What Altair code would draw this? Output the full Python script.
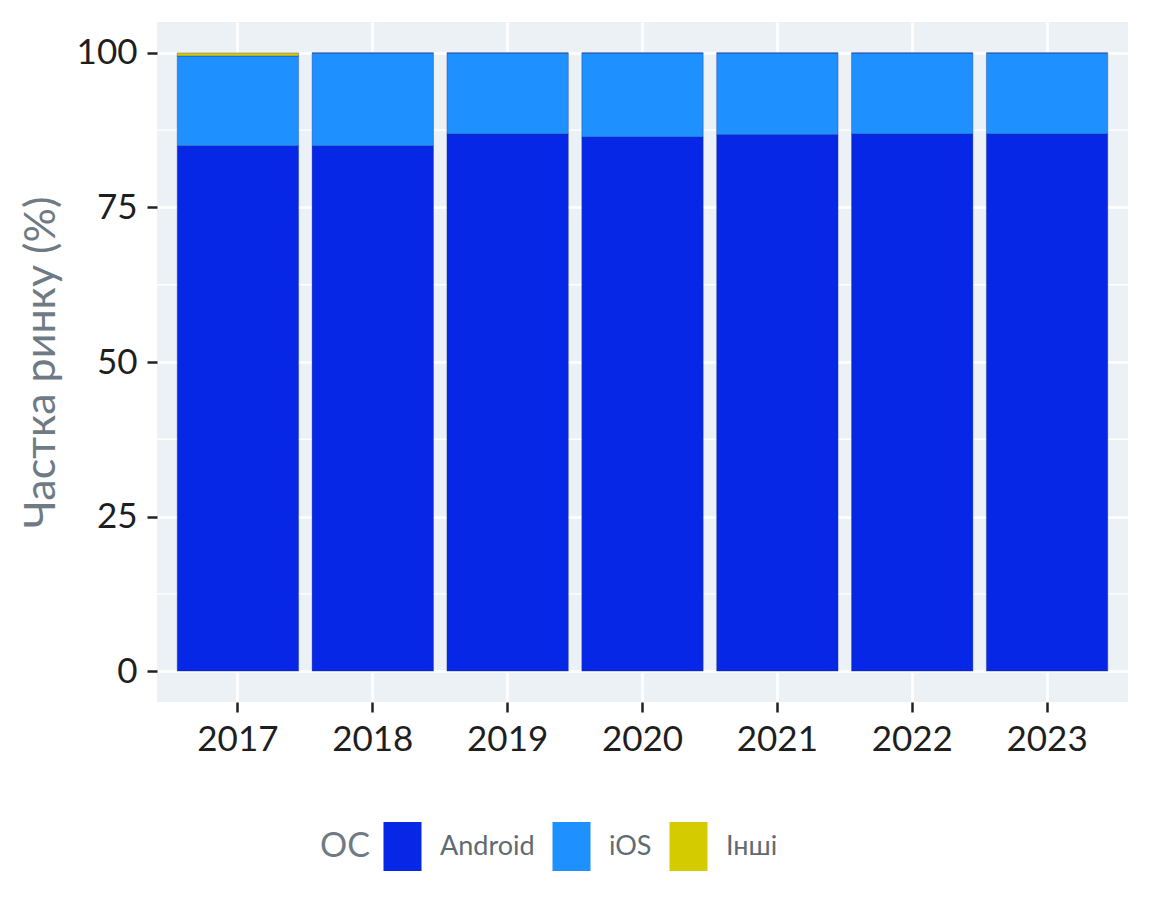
import altair as alt
import pandas as pd

years = ["2017", "2018", "2019", "2020", "2021", "2022", "2023"]
android = [85.0, 85.0, 86.9, 86.4, 86.8, 86.9, 86.9]
ios = [14.5, 15.0, 13.1, 13.6, 13.2, 13.1, 13.1]
other = [0.5, 0.0, 0.0, 0.0, 0.0, 0.0, 0.0]
os_names = ["Android", "iOS", "Інші"]
os_colors = ["#0628E6", "#1E90FF", "#D4CB00"]
major_ticks = [0, 25, 50, 75, 100]
minor_ticks = [12.5, 37.5, 62.5, 87.5]

rows = []
for i, y in enumerate(years):
    for k, (name, vals) in enumerate(zip(os_names, [android, ios, other])):
        rows.append({"year": y, "os": name, "share": vals[i], "ord": k})
df = pd.DataFrame(rows)
minor_df = pd.DataFrame({"share": minor_ticks})

FONT = "Lato"

x_enc = alt.X(
    "year:N",
    title=None,
    scale=alt.Scale(paddingInner=0.1, paddingOuter=0.15),
    axis=alt.Axis(
        labelFontSize=35, labelColor="#1e1e1e", labelFont=FONT,
        tickSize=10, tickWidth=2.5, tickColor="#222222",
        labelPadding=10, domain=False, labelAngle=0,
        grid=True, gridColor="#ffffff", gridWidth=2.5, bandPosition=0.5,
    ),
)
y_scale = alt.Scale(domain=[-5, 105], nice=False, zero=False)
y_axis = alt.Axis(
    values=major_ticks,
    labelFontSize=35, labelColor="#1e1e1e", labelFont=FONT,
    tickSize=10, tickWidth=2.5, tickColor="#222222",
    labelPadding=10, domain=False,
    grid=True, gridColor="#ffffff", gridWidth=2.5,
    titleFontSize=43, titleFont=FONT, titleColor="#6f7b84",
    titleFontWeight="normal", titlePadding=13,
)
Y_TITLE = "Частка ринку (%)"

minor = alt.Chart(minor_df).mark_rule(color="#ffffff", strokeWidth=1.3).encode(
    y=alt.Y("share:Q", scale=y_scale, axis=y_axis, title=Y_TITLE)
)

bars = alt.Chart(df).mark_bar(stroke="#1a2f8a", strokeWidth=1, strokeOpacity=0.35).encode(
    x=x_enc,
    y=alt.Y("share:Q", stack="zero", scale=y_scale, title=Y_TITLE, axis=y_axis),
    color=alt.Color(
        "os:N",
        scale=alt.Scale(domain=os_names, range=os_colors),
        legend=alt.Legend(
            title="ОС",
            orient="none",
            legendX=163,
            legendY=800,
            direction="horizontal",
            titleOrient="left",
            titleFontSize=34, titleFont=FONT, titleColor="#6f7b84",
            titleFontWeight="normal", titlePadding=8,
            labelFontSize=27, labelFont=FONT, labelColor="#5f6b73",
            labelOffset=13,
            columnPadding=12,
            symbolType="M-0.776,-1H0.776V1H-0.776Z",
            symbolSize=2401,
            symbolOpacity=1,
            symbolStrokeWidth=0,
        ),
    ),
    order=alt.Order("ord:Q", sort="ascending"),
)

chart = alt.layer(minor, bars).properties(
    width=971,
    height=680,
    autosize=alt.AutoSizeParams(type="none"),
    padding={"left": 149, "top": 14, "right": 16, "bottom": 212},
).configure(
    background="#ffffff"
).configure_view(
    fill="#EBF1F5", stroke=None
)

chart.save("out.html", embed_options={"renderer": "svg", "actions": False})
